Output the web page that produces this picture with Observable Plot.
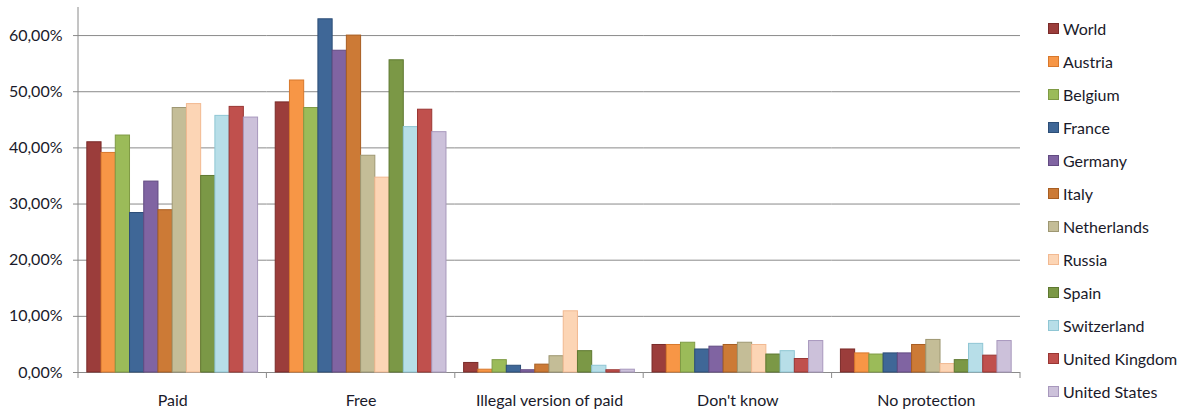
<!DOCTYPE html>
<html>
<head>
<meta charset="utf-8">
<script src="https://cdn.jsdelivr.net/npm/d3@7"></script>
<script src="https://cdn.jsdelivr.net/npm/@observablehq/plot@0.6"></script>
<style>
  html, body { margin: 0; padding: 0; background: #fff; }
  #wrap { position: relative; width: 1185px; height: 412px; font-family: Lato, "Open Sans", sans-serif; }
  #chart { position: absolute; left: 0; top: 0; }
  #legend { position: absolute; left: 1048px; top: 12px; }
  .item { height: 33px; display: flex; align-items: center; font-size: 16px; color: #1a1a2a; white-space: nowrap; }
  .sw { width: 9px; height: 9px; margin-right: 4px; border: 1px solid; box-sizing: content-box; }
</style>
</head>
<body>
<div id="wrap"><div id="chart"></div><div id="legend"></div></div>
<script>
const categories = ["Paid", "Free", "Illegal version of paid", "Don't know", "No protection"];
const countries = ["World", "Austria", "Belgium", "France", "Germany", "Italy", "Netherlands", "Russia", "Spain", "Switzerland", "United Kingdom", "United States"];
const fillColors = ["#9B3D3B", "#F79646", "#9BBB59", "#3F6797", "#8064A2", "#CC7A36", "#C4BD97", "#FCD5B5", "#7B9846", "#B7DEE8", "#C0504D", "#CCC1DA"];
const strokeColors = ["#7A2B29", "#D8782C", "#7F9B45", "#2C4E77", "#624B82", "#A85E22", "#9E9772", "#F2B991", "#5E7830", "#8FC6D4", "#993633", "#A898BD"];

const paid =         [41.0, 39.1, 42.2, 28.4, 34.0, 28.9, 47.1, 47.8, 35.0, 45.7, 47.3, 45.4];
const free =         [48.1, 52.0, 47.1, 62.9, 57.3, 60.0, 38.6, 34.7, 55.6, 43.7, 46.8, 42.8];
const illegal =      [1.7, 0.5, 2.2, 1.2, 0.4, 1.4, 2.9, 10.9, 3.8, 1.2, 0.4, 0.5];
const dontKnow =     [4.9, 4.9, 5.3, 4.1, 4.6, 4.9, 5.3, 4.9, 3.2, 3.8, 2.4, 5.6];
const noProtection = [4.1, 3.4, 3.2, 3.4, 3.4, 4.9, 5.8, 1.5, 2.2, 5.1, 3.0, 5.6];

const yTicks = [0, 10, 20, 30, 40, 50, 60];
const yMax = 65;

const series = [paid, free, illegal, dontKnow, noProtection];
const data = [];
categories.forEach((cat, i) => {
  countries.forEach((c, j) => data.push({category: cat, country: c, value: series[i][j]}));
});
const strokeOf = Object.fromEntries(countries.map((c, i) => [c, strokeColors[i]]));
const fmt = d => d.toFixed(2).replace(".", ",") + "%";

const plot = Plot.plot({
  width: 1030,
  height: 412,
  marginLeft: 78,
  marginRight: 10,
  marginTop: 7,
  marginBottom: 40,
  style: {fontFamily: "Lato, 'Open Sans', sans-serif", fontSize: "15px", color: "#1a1a2a", background: "#fff"},
  fx: {domain: categories, padding: 0, label: null, round: false},
  x: {domain: countries, paddingInner: 0, paddingOuter: 0.62, axis: null, round: false},
  y: {domain: [0, yMax], label: null},
  color: {domain: countries, range: fillColors},
  marks: [
    Plot.ruleY(yTicks, {stroke: "#8a8a8a", strokeWidth: 1}),
    Plot.barY(data, {fx: "category", x: "country", y: "value", fill: "country",
      stroke: {value: d => strokeOf[d.country], scale: null}, strokeWidth: 1}),
    Plot.axisY({ticks: yTicks, tickFormat: fmt, tickSize: 5, tickPadding: 11, stroke: "#8a8a8a", fontSize: 16, label: null}),
    Plot.axisFx({anchor: "bottom", tickSize: 0, tickPadding: 22, fontSize: 16, label: null})
  ]
});
document.getElementById("chart").appendChild(plot);

// axis line and category boundary ticks, positioned from Plot's scales
const svg = d3.select(plot);
const fx = plot.scale("fx");
const y = plot.scale("y");
const y0 = y.apply(0), yTop = y.apply(yMax);
const x0 = fx.apply(categories[0]);
svg.append("line").attr("x1", x0).attr("x2", x0).attr("y1", yTop).attr("y2", y0)
  .attr("stroke", "#8a8a8a");
const bounds = categories.map(c => fx.apply(c));
bounds.push(fx.apply(categories[categories.length - 1]) + fx.bandwidth);
bounds.forEach(b => {
  svg.append("line").attr("x1", b).attr("x2", b).attr("y1", y0).attr("y2", y0 + 6).attr("stroke", "#8a8a8a");
});

// legend
const legend = d3.select("#legend");
countries.forEach((c, i) => {
  const it = legend.append("div").attr("class", "item");
  it.append("div").attr("class", "sw").style("background", fillColors[i]).style("border-color", strokeColors[i]);
  it.append("span").text(c);
});
</script>
</body>
</html>
